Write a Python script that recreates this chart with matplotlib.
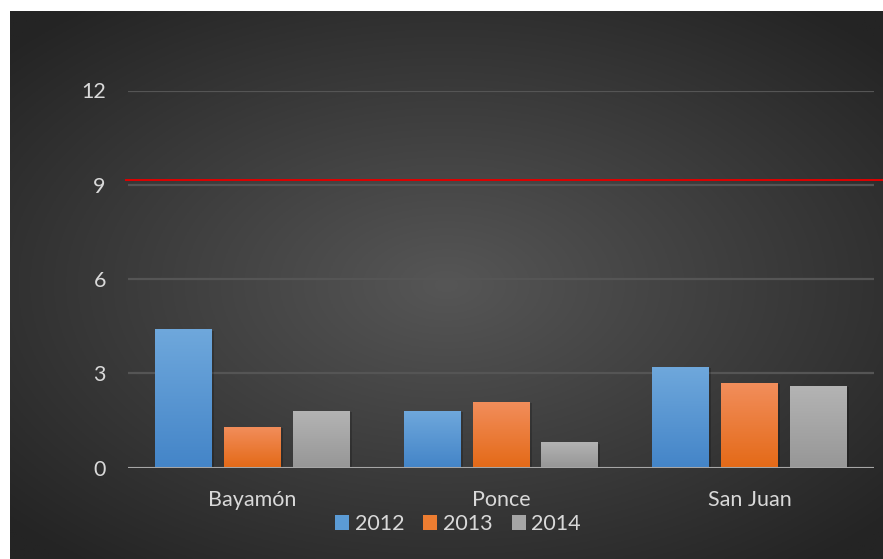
import numpy as np
import matplotlib
matplotlib.use("Agg")
import matplotlib.pyplot as plt
import matplotlib.patheffects as pe
from matplotlib.patches import Patch

# Data
cities = ["Bayamón", "Ponce", "San Juan"]
years = ["2012", "2013", "2014"]
values_2012 = [4.4, 1.8, 3.2]
values_2013 = [1.3, 2.1, 2.7]
values_2014 = [1.8, 0.8, 2.6]
target_level = 9.14
y_ticks = [0, 3, 6, 9, 12]

plt.rcParams['font.family'] = ['Lato', 'DejaVu Sans']

W, H = 883, 559
fig = plt.figure(figsize=(W / 100, H / 100), dpi=100)
fig.patch.set_facecolor("white")

# dark radial background
bg = fig.add_axes([10 / W, 0, (W - 10) / W, (H - 11) / H])
bg.set_axis_off()
gx, gy = np.meshgrid(np.linspace(-1, 1, 400), np.linspace(-1, 1, 260))
r = np.sqrt(((gx - 0.0) / 1.05) ** 2 + ((gy + 0.0) / 1.0) ** 2)
r = np.clip(r / 1.3, 0, 1)
c0 = np.array([0x56, 0x56, 0x56]) / 255
c1 = np.array([0x24, 0x24, 0x24]) / 255
img = c0[None, None, :] * (1 - r[..., None]) + c1[None, None, :] * r[..., None]
bg.imshow(img, extent=[0, 1, 0, 1], aspect="auto", origin="lower")
bg.set_xlim(0, 1)
bg.set_ylim(0, 1)

ax = fig.add_axes([128 / W, (H - 467.5) / H, (874 - 128) / W, (467.5 - 90.5) / H])
ax.set_facecolor("none")

x = np.arange(len(cities))
step = 0.277
width = 0.229
series = [values_2012, values_2013, values_2014]
grad_colors = [("#6fa8dc", "#4485c8"), ("#f28e5c", "#e46a18"), ("#b4b4b4", "#979797")]
legend_colors = ["#5b9bd5", "#ed7d31", "#a5a5a5"]

ax.set_xlim(-0.5, len(cities) - 0.5)
ax.set_ylim(0, 12)

for i, vals in enumerate(series):
    bars = ax.bar(x + (i - 1) * step, vals, width, color="none", zorder=3,
                  path_effects=[pe.SimplePatchShadow(offset=(1.5, -1), shadow_rgbFace="black", alpha=0.2),
                                pe.Normal()])
    top, bot = grad_colors[i]
    ct = np.array(matplotlib.colors.to_rgb(top))
    cb = np.array(matplotlib.colors.to_rgb(bot))
    t = np.linspace(0, 1, 100)[:, None]
    grad = (cb * (1 - t) + ct * t)[:, None, :]
    for b in bars:
        im = ax.imshow(grad, extent=[b.get_x(), b.get_x() + b.get_width(), 0, b.get_height()],
                       aspect="auto", origin="lower", zorder=3.5)
        im.set_clip_path(b)

ax.set_xlim(-0.5, len(cities) - 0.5)
ax.set_ylim(0, 12)

# grid + baseline
ax.set_yticks(y_ticks)
ax.yaxis.grid(True, color="#555555", linewidth=1.6, zorder=1)
ax.set_axisbelow(True)
ax.axhline(0, color="#a6a6a6", linewidth=2.2, zorder=4)
for s in ax.spines.values():
    s.set_visible(False)

# red target line
ax.plot([-2 / 746, 1.013], [target_level, target_level], color="#e00000", linewidth=1.4,
        transform=ax.get_yaxis_transform(), clip_on=False, zorder=5)

ax.set_xticks(x)
ax.set_xticklabels(cities)
ax.tick_params(axis="both", length=0, colors="#d9d9d9", labelsize=15.5)
ax.tick_params(axis="x", pad=16)
ax.tick_params(axis="y", pad=16)

handles = [Patch(facecolor=c, edgecolor="none") for c in legend_colors]
fig.legend(handles, years, loc="center", bbox_to_anchor=(458 / W, (H - 524) / H), ncol=3,
           frameon=False, fontsize=15.5, labelcolor="#d9d9d9", handlelength=0.65, handleheight=0.65,
           handletextpad=0.25, columnspacing=0.9)

fig.savefig("out.png", dpi=100, facecolor=fig.get_facecolor())
